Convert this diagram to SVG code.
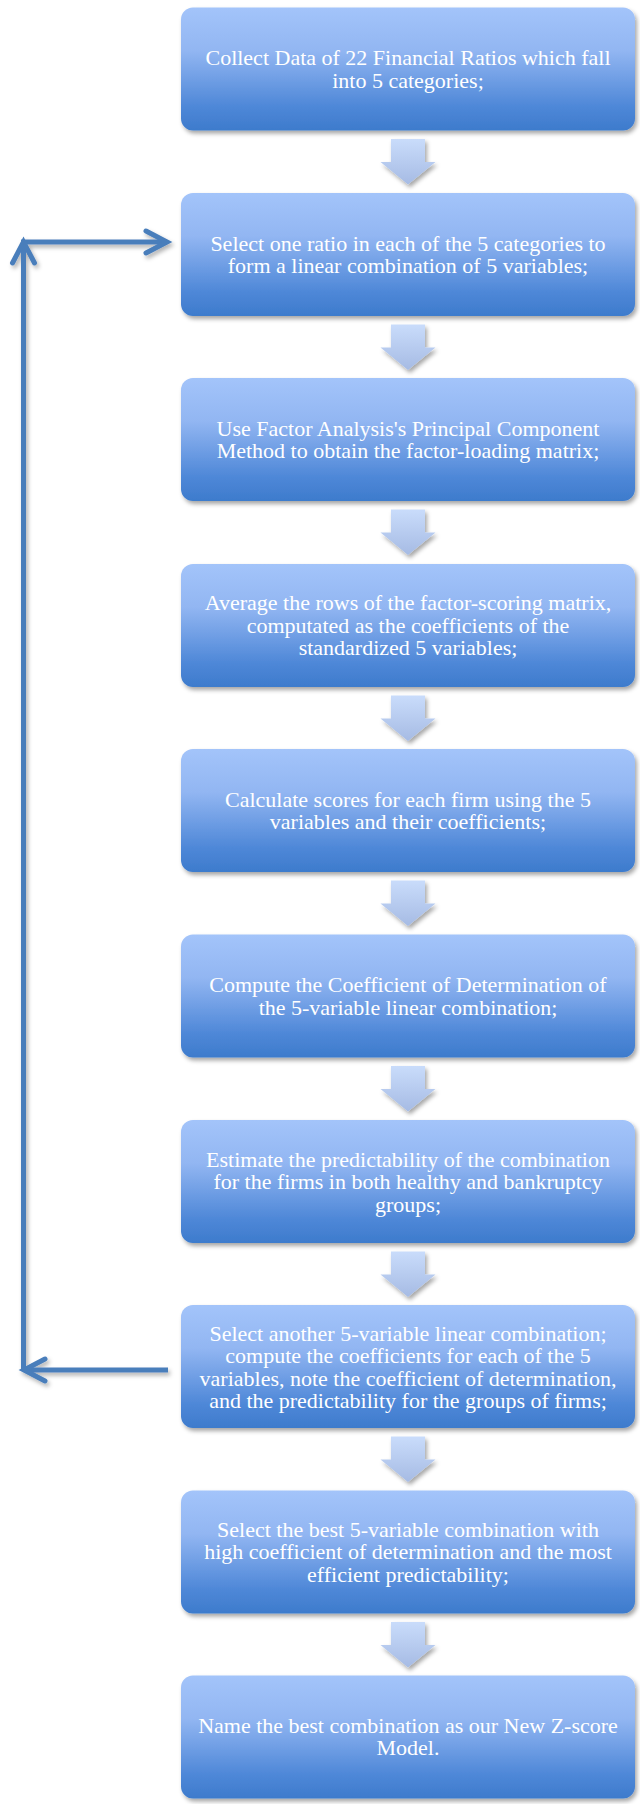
<svg xmlns="http://www.w3.org/2000/svg" width="640" height="1804" viewBox="0 0 640 1804">
<defs>
<linearGradient id="boxGrad" x1="0" y1="0" x2="0" y2="1">
<stop offset="0" stop-color="#a3c4fa"/>
<stop offset="0.35" stop-color="#92b6f2"/>
<stop offset="0.8" stop-color="#4f88d8"/>
<stop offset="1" stop-color="#3d7bcc"/>
</linearGradient>
<linearGradient id="arrGrad" x1="0" y1="0" x2="0" y2="1">
<stop offset="0" stop-color="#c9dcfb"/>
<stop offset="1" stop-color="#a6bbe4"/>
</linearGradient>
<filter id="shadow" x="-10%" y="-10%" width="120%" height="130%">
<feDropShadow dx="2" dy="3" stdDeviation="2" flood-color="#000" flood-opacity="0.35"/>
</filter>
<filter id="lineShadow" filterUnits="userSpaceOnUse" x="0" y="0" width="640" height="1804">
<feDropShadow dx="2" dy="3" stdDeviation="2" flood-color="#000" flood-opacity="0.3"/>
</filter>
<marker id="chev" markerUnits="userSpaceOnUse" markerWidth="40" markerHeight="40" viewBox="-30 -20 40 40" refX="0" refY="0" orient="auto">
<path d="M-21,-11 L0,0 L-21,11" fill="none" stroke="#4a7ebb" stroke-width="5" stroke-linecap="round" stroke-linejoin="miter"/>
</marker>
<path id="down" d="M391,0 H425 V23 H435.5 L408,45.5 L380.5,23 H391 Z"/>
</defs>
<style>
.box{fill:url(#boxGrad);filter:url(#shadow);}
.arr{fill:url(#arrGrad);filter:url(#shadow);}
.lbl{font-family:"Liberation Serif","Times New Roman",serif;font-size:22px;fill:#ffffff;text-anchor:middle;}
.conn{fill:none;stroke:#4a7ebb;stroke-width:5;}
</style>

<g id="arrows">
<use href="#down" class="arr" x="0" y="139"/>
<use href="#down" class="arr" x="0" y="324.5"/>
<use href="#down" class="arr" x="0" y="509.5"/>
<use href="#down" class="arr" x="0" y="695.5"/>
<use href="#down" class="arr" x="0" y="880.5"/>
<use href="#down" class="arr" x="0" y="1066"/>
<use href="#down" class="arr" x="0" y="1251.5"/>
<use href="#down" class="arr" x="0" y="1436.5"/>
<use href="#down" class="arr" x="0" y="1622"/>
</g>

<g id="connectors" filter="url(#lineShadow)">
<line class="conn" x1="168" y1="1370" x2="24" y2="1370" marker-end="url(#chev)"/>
<line class="conn" x1="23.5" y1="1370" x2="23.5" y2="242" marker-end="url(#chev)"/>
<line class="conn" x1="21" y1="242" x2="167" y2="242" marker-end="url(#chev)"/>
</g>

<g id="n1">
<rect class="box" x="181" y="7.5" width="454" height="123" rx="12"/>
<text class="lbl" x="408" y="65">Collect Data of 22 Financial Ratios which fall</text>
<text class="lbl" x="408" y="87.5">into 5 categories;</text>
</g>
<g id="n2">
<rect class="box" x="181" y="193" width="454" height="123" rx="12"/>
<text class="lbl" x="408" y="250.5">Select one ratio in each of the 5 categories to</text>
<text class="lbl" x="408" y="273">form a linear combination of 5 variables;</text>
</g>
<g id="n3">
<rect class="box" x="181" y="378" width="454" height="123" rx="12"/>
<text class="lbl" x="408" y="435.5">Use Factor Analysis's Principal Component</text>
<text class="lbl" x="408" y="458">Method to obtain the factor-loading matrix;</text>
</g>
<g id="n4">
<rect class="box" x="181" y="564" width="454" height="123" rx="12"/>
<text class="lbl" x="408" y="610">Average the rows of the factor-scoring matrix,</text>
<text class="lbl" x="408" y="632.5">computated as the coefficients of the</text>
<text class="lbl" x="408" y="655">standardized 5 variables;</text>
</g>
<g id="n5">
<rect class="box" x="181" y="749" width="454" height="123" rx="12"/>
<text class="lbl" x="408" y="806.5">Calculate scores for each firm using the 5</text>
<text class="lbl" x="408" y="829">variables and their coefficients;</text>
</g>
<g id="n6">
<rect class="box" x="181" y="934.5" width="454" height="123" rx="12"/>
<text class="lbl" x="408" y="992">Compute the Coefficient of Determination of</text>
<text class="lbl" x="408" y="1014.5">the 5-variable linear combination;</text>
</g>
<g id="n7">
<rect class="box" x="181" y="1120" width="454" height="123" rx="12"/>
<text class="lbl" x="408" y="1166.5">Estimate the predictability of the combination</text>
<text class="lbl" x="408" y="1189">for the firms in both healthy and bankruptcy</text>
<text class="lbl" x="408" y="1211.5">groups;</text>
</g>
<g id="n8">
<rect class="box" x="181" y="1305" width="454" height="123" rx="12"/>
<text class="lbl" x="408" y="1340.5">Select another 5-variable linear combination;</text>
<text class="lbl" x="408" y="1363">compute the coefficients for each of the 5</text>
<text class="lbl" x="408" y="1385.5">variables, note the coefficient of determination,</text>
<text class="lbl" x="408" y="1408">and the predictability for the groups of firms;</text>
</g>
<g id="n9">
<rect class="box" x="181" y="1490.5" width="454" height="123" rx="12"/>
<text class="lbl" x="408" y="1536.5">Select the best 5-variable combination with</text>
<text class="lbl" x="408" y="1559">high coefficient of determination and the most</text>
<text class="lbl" x="408" y="1581.5">efficient predictability;</text>
</g>
<g id="n10">
<rect class="box" x="181" y="1675.5" width="454" height="123" rx="12"/>
<text class="lbl" x="408" y="1732.5">Name the best combination as our New Z-score</text>
<text class="lbl" x="408" y="1755">Model.</text>
</g>
</svg>
